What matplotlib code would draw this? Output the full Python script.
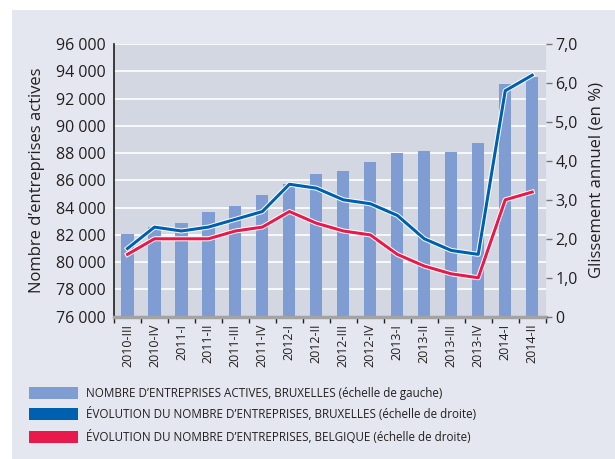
import matplotlib
matplotlib.use("Agg")
import matplotlib.pyplot as plt
import matplotlib.patheffects as pe
from matplotlib.patches import Rectangle
import numpy as np

plt.rcParams['font.family'] = ['Open Sans', 'DejaVu Sans']

# Data
quarters = ["2010-III", "2010-IV", "2011-I", "2011-II", "2011-III", "2011-IV",
            "2012-I", "2012-II", "2012-III", "2012-IV", "2013-I", "2013-II",
            "2013-III", "2013-IV", "2014-I", "2014-II"]
entreprises_bxl = [82100, 82600, 82900, 83700, 84150, 84950,
                   85750, 86500, 86650, 87350, 88000, 88150,
                   88100, 88750, 93100, 93600]
evol_bxl = [1.75, 2.3, 2.2, 2.3, 2.5, 2.7, 3.4, 3.3, 3.0, 2.9, 2.6, 2.0,
            1.7, 1.6, 5.8, 6.2]
evol_bel = [1.6, 2.0, 2.0, 2.0, 2.2, 2.3, 2.7, 2.4, 2.2, 2.1, 1.6, 1.3,
            1.1, 1.0, 3.0, 3.2]

left_ticks = np.arange(76000, 96001, 2000)
right_ticks = np.arange(0, 7.01, 1.0)

c_bg = "#e4e7ef"
c_plot = "#d3d7e1"
c_bar = "#7f9dd3"
c_blue = "#0060b0"
c_red = "#e8194b"
c_text = "#231f20"

fig = plt.figure(figsize=(6.15, 4.59), dpi=100)
fig.patch.set_facecolor("white")
fig.patches.append(Rectangle((12 / 615, 0), 1, 1 - 10 / 459, transform=fig.transFigure,
                             facecolor=c_bg, edgecolor="none", zorder=-10))

ax = fig.add_axes([114 / 615, 1 - 316.7 / 459, (545.7 - 114) / 615, (316.7 - 44) / 459])
ax.set_facecolor(c_plot)
x = np.arange(len(quarters))
ax.bar(x, entreprises_bxl, width=0.45, color=c_bar, zorder=2)
ax.set_ylim(76000, 96000)
ax.set_xlim(-0.5, len(quarters) - 0.5)
ax.set_yticks(left_ticks)
ax.set_yticklabels([f"{v // 1000} 000" for v in left_ticks], fontsize=11.5, color=c_text)
ax.yaxis.grid(True, color="white", linewidth=1.2, zorder=1)
ax.set_axisbelow(True)
ax.tick_params(axis="y", length=0, pad=6)
ax.set_xticks(x)
ax.set_xticklabels(quarters, rotation=90, fontsize=9, color=c_text)
ax.set_xticks(np.arange(-0.5, len(quarters), 1), minor=True)
ax.tick_params(axis="x", which="major", length=0, pad=5)
ax.tick_params(axis="x", which="minor", length=4, width=1, color=c_text, direction="out")
ax.set_ylabel("Nombre d\u2019entreprises actives", fontsize=12, color=c_text, labelpad=8)
ax.spines["left"].set_color(c_text)
ax.spines["left"].set_linewidth(1.2)
ax.spines["bottom"].set_color("#a3a3a3")
ax.spines["bottom"].set_linewidth(2.5)
ax.spines["top"].set_visible(False)
ax.spines["right"].set_visible(False)

ax2 = ax.twinx()
ax2.set_ylim(0, 7)
ax2.set_yticks(right_ticks)
ax2.set_yticklabels([f"{v:.0f}" if v == 0 else f"{v:.1f}".replace(".", ",") for v in right_ticks],
                    fontsize=11.5, color=c_text)
ax2.tick_params(axis="y", length=4, width=1, color="#777777", pad=3)
for s in ["top", "left", "bottom", "right"]:
    ax2.spines[s].set_visible(False)
ax2.set_ylabel("Glissement annuel (en %)", fontsize=12, color=c_text, labelpad=8)

outline = [pe.Stroke(linewidth=3.6, foreground="white"), pe.Normal()]
ax2.plot(x, evol_bxl, color=c_blue, linewidth=2.2, zorder=4, path_effects=outline)
ax2.plot(x, evol_bel, color=c_red, linewidth=2.2, zorder=4, path_effects=outline)

# Legend
legend_items = [
    (c_bar, "NOMBRE D\u2019ENTREPRISES ACTIVES, BRUXELLES (\u00e9chelle de gauche)", 393),
    (c_blue, "\u00c9VOLUTION DU NOMBRE D\u2019ENTREPRISES, BRUXELLES (\u00e9chelle de droite)", 414),
    (c_red, "\u00c9VOLUTION DU NOMBRE D\u2019ENTREPRISES, BELGIQUE (\u00e9chelle de droite)", 437),
]
for color, label, ypx in legend_items:
    fig.patches.append(Rectangle((29 / 615, 1 - (ypx + 6) / 459), 49 / 615, 12 / 459,
                                 transform=fig.transFigure, facecolor=color, edgecolor="none"))
    fig.text(86 / 615, 1 - ypx / 459, label, fontsize=8.4, color=c_text, va="center", ha="left")

fig.savefig("out.png", dpi=100)
